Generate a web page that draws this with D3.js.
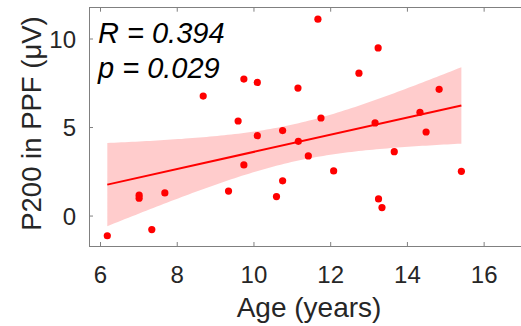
<!DOCTYPE html>
<html>
<head>
<meta charset="utf-8">
<script src="https://cdn.jsdelivr.net/npm/d3@7"></script>
<style>
html,body{margin:0;padding:0;background:#fff;}
svg{display:block;}
text{font-family:"Liberation Sans", Arial, sans-serif;}
</style>
</head>
<body>
<svg id="chart" width="521" height="326"></svg>
<script>
// Data
const ages = [6.19, 7.02, 7.02, 7.35, 7.69, 8.69, 9.35, 9.60, 9.75, 9.75, 10.10, 10.10, 10.60, 10.76, 10.76, 11.16, 11.17, 11.43, 11.68, 11.76, 12.09, 12.75, 13.17, 13.25, 13.26, 13.35, 13.67, 14.34, 14.50, 14.84, 15.42];
const p200 = [-1.14, 1.15, 0.98, -0.79, 1.28, 6.75, 1.38, 5.34, 7.71, 2.86, 7.52, 4.51, 1.07, 4.80, 1.96, 7.20, 4.19, 3.37, 11.09, 5.51, 2.52, 8.04, 5.23, 9.47, 0.94, 0.45, 3.61, 5.83, 4.72, 7.13, 2.50];
const xTicks = [6, 8, 10, 12, 14, 16];
const yTicks = [0, 5, 10];
const statLines = ["R = 0.394", "p = 0.029"];
const xLabel = "Age (years)";
const yLabel = "P200 in PPF (\u03BCV)";

const svg = d3.select("#chart");
const mLeft = 89, mTop = 7.7, mBottom = 246, mRight = 523;
const x = d3.scaleLinear().domain([5.713, 17]).range([mLeft, 522]);
const y = d3.scaleLinear().domain([-1.72, 11.74]).range([mBottom, mTop]);

// Linear regression with 95% confidence band
const n = ages.length;
const mx = d3.mean(ages), my = d3.mean(p200);
let sxx = 0, sxy = 0;
for (let i = 0; i < n; i++) { sxx += (ages[i]-mx)**2; sxy += (ages[i]-mx)*(p200[i]-my); }
const slope = sxy / sxx, icpt = my - slope * mx;
let sse = 0;
for (let i = 0; i < n; i++) sse += (p200[i] - (icpt + slope*ages[i]))**2;
const sres = Math.sqrt(sse / (n - 2));
const tval = 2.045;
const xmin = d3.min(ages), xmax = d3.max(ages);
const grid = d3.range(0, 101).map(k => xmin + (xmax - xmin) * k / 100);
const band = grid.map(g => {
  const f = icpt + slope*g;
  const h = tval * sres * Math.sqrt(1/n + (g-mx)**2/sxx);
  return {g, lo: f - h, hi: f + h, f};
});

svg.append("defs").append("clipPath").attr("id","clip")
  .append("rect").attr("x", mLeft).attr("y", mTop).attr("width", mRight-mLeft).attr("height", mBottom-mTop);

const plot = svg.append("g").attr("clip-path","url(#clip)");
plot.append("path")
  .datum(band)
  .attr("d", d3.area().x(d => x(d.g)).y0(d => y(d.lo)).y1(d => y(d.hi)))
  .attr("fill", "#ff0000").attr("fill-opacity", 0.2).attr("stroke", "none");
plot.append("path")
  .datum([xmin, xmax])
  .attr("d", d3.line().x(d => x(d)).y(d => y(icpt + slope*d)))
  .attr("stroke", "#ff0000").attr("stroke-width", 2).attr("fill", "none");
plot.selectAll("circle").data(ages).join("circle")
  .attr("cx", d => x(d)).attr("cy", (d, i) => y(p200[i])).attr("r", 3.6)
  .attr("fill", "#ff0000");

// Axes (box with inward ticks)
const axColor = "#808080";
const xAxisB = d3.axisBottom(x).tickValues(xTicks).tickSize(-4).tickPadding(0).tickFormat(d3.format("d"));
const gx = svg.append("g").attr("transform", `translate(0,${mBottom})`).call(xAxisB);
gx.select(".domain").remove();
gx.selectAll(".tick line").attr("stroke", axColor);
gx.selectAll(".tick text").attr("fill", "#262626").attr("font-size", 24).attr("dy", null).attr("y", 37);

const xAxisT = d3.axisTop(x).tickValues(xTicks).tickSize(-4).tickFormat("");
const gxt = svg.append("g").attr("transform", `translate(0,${mTop})`).call(xAxisT);
gxt.select(".domain").remove();
gxt.selectAll(".tick line").attr("stroke", axColor);

const yAxisL = d3.axisLeft(y).tickValues(yTicks).tickSize(-4).tickPadding(13).tickFormat(d3.format("d"));
const gy = svg.append("g").attr("transform", `translate(${mLeft},0)`).call(yAxisL);
gy.select(".domain").remove();
gy.selectAll(".tick line").attr("stroke", axColor);
gy.selectAll(".tick text").attr("fill", "#262626").attr("font-size", 24).attr("dy", "0.36em");

svg.append("rect").attr("x", mLeft).attr("y", mTop).attr("width", mRight-mLeft).attr("height", mBottom-mTop)
  .attr("fill", "none").attr("stroke", axColor).attr("stroke-width", 1).attr("shape-rendering","crispEdges");

// Labels
svg.append("text").attr("x", 309).attr("y", 317).attr("text-anchor", "middle")
  .attr("font-size", 28).attr("fill", "#262626").text(xLabel);
svg.append("text").attr("transform", "translate(31,123.5) rotate(-90)").attr("text-anchor", "middle")
  .attr("dominant-baseline", "central")
  .attr("font-size", 27.5).attr("fill", "#262626").text(yLabel);

// Stats
svg.selectAll("text.stat").data(statLines).join("text").attr("class","stat")
  .attr("x", 98).attr("y", (d, i) => 43.3 + i*35)
  .attr("font-size", 29).attr("font-style", "italic").attr("fill", "#000").text(d => d);
</script>
</body>
</html>
